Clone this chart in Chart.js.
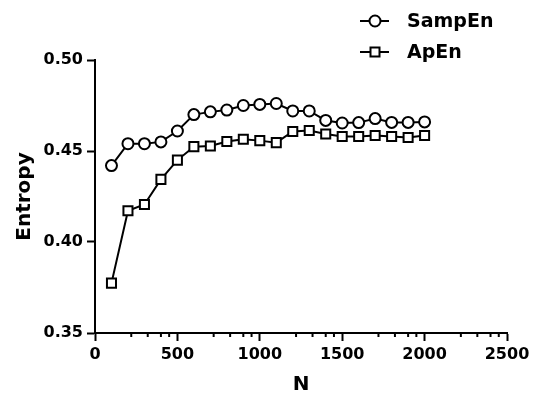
<!DOCTYPE html>
<html>
<head>
<meta charset="utf-8">
<script src="https://cdn.jsdelivr.net/npm/chart.js@4/dist/chart.umd.min.js"></script>
<style>
  html, body { margin: 0; padding: 0; background: #fff; }
  #wrap { width: 534px; height: 399px; }
</style>
</head>
<body>
<div id="wrap"><canvas id="chart"></canvas></div>
<script>
/* ================= DATA ================= */
const nValues = [100, 200, 300, 400, 500, 600, 700, 800, 900, 1000,
                 1100, 1200, 1300, 1400, 1500, 1600, 1700, 1800, 1900, 2000];

const sampEn = [0.442, 0.454, 0.454, 0.455, 0.461, 0.470, 0.4715, 0.4725, 0.475, 0.4756,
                0.4761, 0.472, 0.472, 0.4668, 0.4654, 0.4656, 0.4678, 0.4657, 0.4657, 0.466];

const apEn = [0.3774, 0.4172, 0.4206, 0.4344, 0.445, 0.4524, 0.4528, 0.4552, 0.4565, 0.4557,
              0.4546, 0.4607, 0.4613, 0.4593, 0.458, 0.458, 0.4585, 0.458, 0.4574, 0.4585];

const seriesNames = ["SampEn", "ApEn"];
const yTicks = [0.35, 0.40, 0.45, 0.50];
const xTicks = [0, 500, 1000, 1500, 2000, 2500];
const minorOffsets = [220, 320, 400, 450];

/* ================= HELPERS ================= */
const FONT = "'DejaVu Sans', sans-serif";
const toPoints = ys => nValues.map((n, i) => ({ x: n, y: ys[i] }));

function drawMarker(ctx, style, x, y) {
  ctx.save();
  ctx.fillStyle = "#fff";
  ctx.strokeStyle = "#000";
  ctx.lineWidth = 2;
  ctx.beginPath();
  if (style === "circle") {
    ctx.arc(x, y, 5.5, 0, Math.PI * 2);
  } else {
    ctx.rect(x - 4.5, y - 4.5, 9, 9);
  }
  ctx.fill();
  ctx.stroke();
  ctx.restore();
}

/* legend drawn by hand, top right, stacked */
const legendPlugin = {
  id: "stackLegend",
  afterDraw(chart) {
    const ctx = chart.ctx;
    const rows = [21, 52];
    chart.data.datasets.forEach((ds, i) => {
      const y = rows[i];
      ctx.save();
      ctx.strokeStyle = "#000";
      ctx.lineWidth = 2;
      ctx.beginPath();
      ctx.moveTo(360, y);
      ctx.lineTo(389, y);
      ctx.stroke();
      drawMarker(ctx, ds.pointStyle, 375, y);
      ctx.fillStyle = "#000";
      ctx.font = "bold 19px " + FONT;
      ctx.textBaseline = "middle";
      ctx.fillText(ds.label, 407, y + 1);
      ctx.restore();
    });
  }
};

/* small minor ticks on the x axis */
const minorTickPlugin = {
  id: "minorTicks",
  afterDraw(chart) {
    const ctx = chart.ctx;
    const xs = chart.scales.x;
    const yb = chart.chartArea.bottom;
    ctx.save();
    ctx.strokeStyle = "#000";
    ctx.lineWidth = 2;
    xTicks.slice(0, -1).forEach(base => {
      minorOffsets.forEach(off => {
        const px = xs.getPixelForValue(base + off);
        ctx.beginPath();
        ctx.moveTo(px, yb);
        ctx.lineTo(px, yb + 4);
        ctx.stroke();
      });
    });
    ctx.restore();
  }
};

/* ================= CHART ================= */
new Chart(document.getElementById("chart"), {
  type: "line",
  data: {
    datasets: [
      {
        label: seriesNames[0],
        data: toPoints(sampEn),
        borderColor: "#000",
        borderWidth: 2,
        pointStyle: "circle",
        pointRadius: 5.5,
        pointBackgroundColor: "#fff",
        pointBorderColor: "#000",
        pointBorderWidth: 2,
        tension: 0,
        clip: false
      },
      {
        label: seriesNames[1],
        data: toPoints(apEn),
        borderColor: "#000",
        borderWidth: 2,
        pointStyle: "rect",
        pointRadius: 6.4,
        pointBackgroundColor: "#fff",
        pointBorderColor: "#000",
        pointBorderWidth: 2,
        tension: 0,
        clip: false
      }
    ]
  },
  options: {
    responsive: true,
    maintainAspectRatio: false,
    animation: false,
    layout: { padding: { left: 0, top: 60, right: 27, bottom: 0 } },
    plugins: {
      legend: { display: false },
      tooltip: { enabled: false }
    },
    scales: {
      x: {
        type: "linear",
        min: 0,
        max: 2500,
        afterBuildTicks: s => { s.ticks = xTicks.map(v => ({ value: v })); },
        afterFit: s => { s.height = 66; },
        border: { color: "#000", width: 2 },
        grid: { drawOnChartArea: false, drawTicks: true, tickLength: 8, tickColor: "#000", tickWidth: 2 },
        ticks: {
          color: "#000",
          padding: 4,
          maxRotation: 0,
          font: { family: FONT, size: 16, weight: "bold" },
          callback: v => String(v)
        },
        title: {
          display: true,
          text: "N",
          color: "#000",
          padding: { top: 0, bottom: 2 },
          font: { family: FONT, size: 20, weight: "bold" }
        }
      },
      y: {
        min: 0.35,
        max: 0.50,
        afterBuildTicks: s => { s.ticks = yTicks.map(v => ({ value: v })); },
        afterFit: s => { s.width = 95; },
        border: { color: "#000", width: 2 },
        grid: { drawOnChartArea: false, drawTicks: true, tickLength: 8, tickColor: "#000", tickWidth: 2 },
        ticks: {
          color: "#000",
          padding: 4,
          font: { family: FONT, size: 16, weight: "bold" },
          callback: v => Number(v).toFixed(2)
        },
        title: {
          display: true,
          text: "Entropy",
          color: "#000",
          padding: { top: 13, bottom: 0 },
          font: { family: FONT, size: 20, weight: "bold" }
        }
      }
    }
  },
  plugins: [legendPlugin, minorTickPlugin]
});
</script>
</body>
</html>
